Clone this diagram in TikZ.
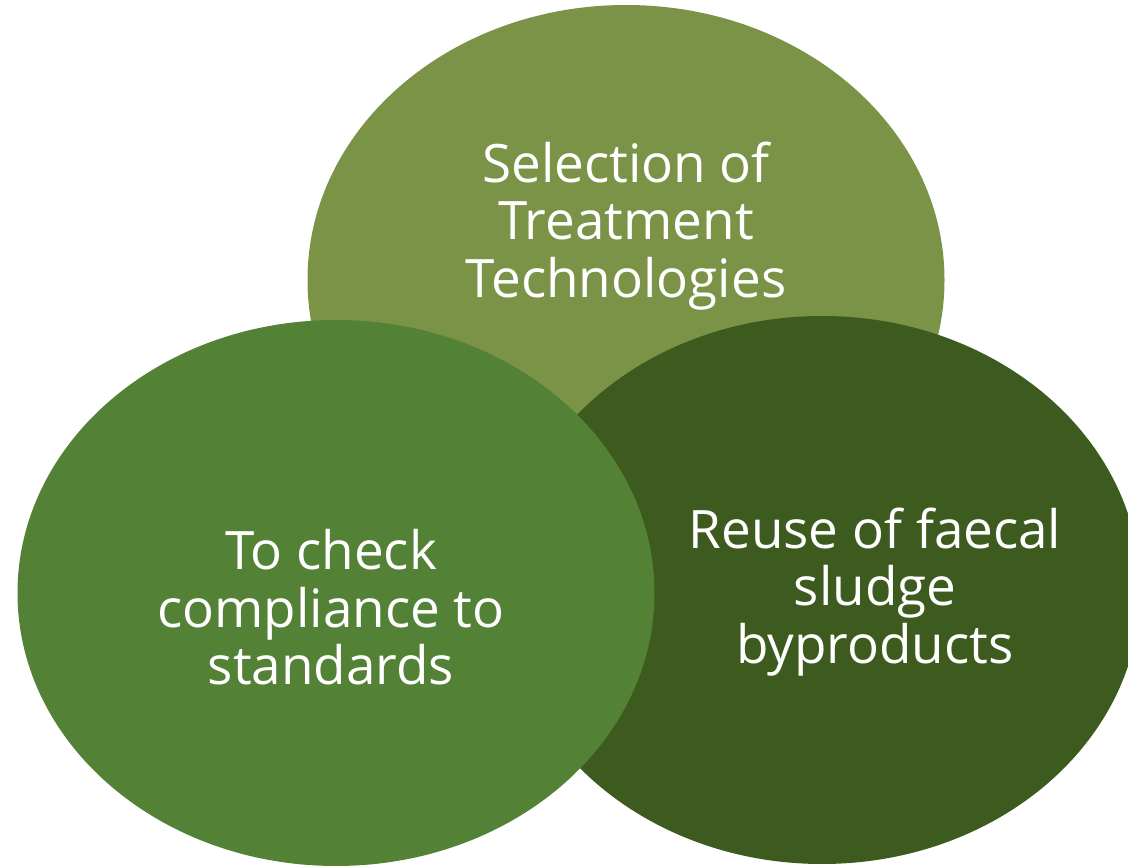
\documentclass[tikz,border=0pt]{standalone}
\usepackage{fontspec}
\setmainfont{Open Sans}
\definecolor{topgreen}{HTML}{7A9347}
\definecolor{leftgreen}{HTML}{538135}
\definecolor{rightgreen}{HTML}{3D5A1F}
\begin{document}
\begin{tikzpicture}[x=1pt,y=-1pt,
  blob/.style={draw=none},
  label/.style={text=white,align=center,inner sep=0pt,
    font=\fontsize{53}{57.5}\selectfont}]
\useasboundingbox (0,0) rectangle (1128,866);
\begin{scope}
\clip (0,0) rectangle (1128,866);
\fill[topgreen] (626,280) ellipse [x radius=318.5, y radius=275];
\fill[rightgreen] (822,590) ellipse [x radius=318.5, y radius=274];
\fill[leftgreen] (336,593) ellipse [x radius=318.5, y radius=273];
\end{scope}
\node[label] (top) at (626,226) {Selection of\\Treatment\\Technologies};
\node[label] (left) at (331,607.5) {To check\\compliance to\\standards};
\node[label] (right) at (875,592) {Reuse of faecal\\sludge\\byproducts};
\end{tikzpicture}
\end{document}
